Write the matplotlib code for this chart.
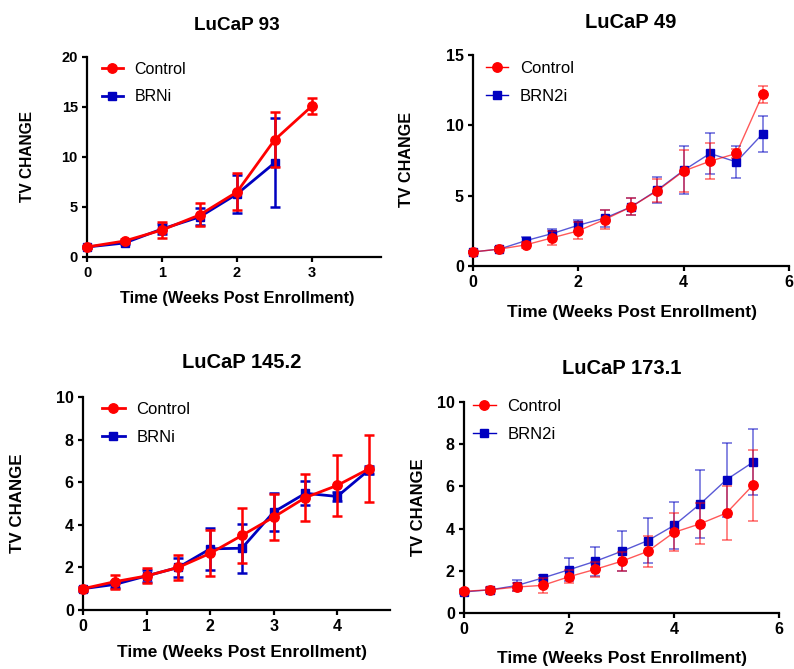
import matplotlib
matplotlib.use('Agg')
import matplotlib.pyplot as plt
from matplotlib.lines import Line2D

plt.rcParams['font.family'] = ['Liberation Sans', 'DejaVu Sans']

RED = '#ff0000'
BLUE = '#0000c0'
W, H = 794, 669

# LuCaP 93
weeks_93 = [0, 0.5, 1, 1.5, 2, 2.5, 3]
ctrl_93 = [1.0, 1.6, 2.7, 4.2, 6.5, 11.7, 15.1]
ctrl_93_err = [0.1, 0.2, 0.8, 1.15, 1.85, 2.75, 0.8]
brn_93 = [1.0, 1.4, 2.8, 4.0, 6.3, 9.4]
brn_93_err = [0.1, 0.15, 0.5, 0.85, 1.9, 4.45]

# LuCaP 49
weeks_49 = [0, 0.5, 1, 1.5, 2, 2.5, 3, 3.5, 4, 4.5, 5, 5.5]
ctrl_49 = [1.0, 1.2, 1.5, 2.0, 2.5, 3.3, 4.2, 5.35, 6.75, 7.45, 8.0, 12.2]
ctrl_49_err = [0.1, 0.15, 0.2, 0.5, 0.6, 0.65, 0.6, 0.8, 1.5, 1.3, 0.3, 0.6]
brn_49 = [1.0, 1.2, 1.8, 2.3, 2.9, 3.4, 4.2, 5.4, 6.8, 8.0, 7.4, 9.4]
brn_49_err = [0.1, 0.15, 0.25, 0.3, 0.4, 0.6, 0.6, 0.9, 1.7, 1.45, 1.15, 1.27]

# LuCaP 145.2
weeks_145 = [0, 0.5, 1, 1.5, 2, 2.5, 3, 3.5, 4, 4.5]
ctrl_145 = [1.0, 1.33, 1.6, 2.0, 2.66, 3.5, 4.36, 5.28, 5.85, 6.63]
ctrl_145_err = [0.1, 0.33, 0.35, 0.6, 1.08, 1.3, 1.08, 1.1, 1.43, 1.57]
brn_145 = [1.0, 1.2, 1.6, 2.0, 2.87, 2.9, 4.6, 5.48, 5.33, 6.58]
brn_145_err = [0.1, 0.15, 0.3, 0.45, 1.0, 1.15, 0.9, 0.57, 0.2, 0.2]

# LuCaP 173.1
weeks_173 = [0, 0.5, 1, 1.5, 2, 2.5, 3, 3.5, 4, 4.5, 5, 5.5]
ctrl_173 = [1.03, 1.1, 1.23, 1.31, 1.72, 2.07, 2.45, 2.92, 3.82, 4.23, 4.74, 6.05]
ctrl_173_err = [0.1, 0.15, 0.2, 0.37, 0.3, 0.35, 0.45, 0.75, 0.9, 0.96, 1.27, 1.68]
brn_173 = [1.0, 1.1, 1.3, 1.66, 2.05, 2.45, 2.92, 3.43, 4.15, 5.17, 6.32, 7.14]
brn_173_err = [0.1, 0.1, 0.25, 0.15, 0.55, 0.7, 0.95, 1.07, 1.1, 1.62, 1.75, 1.57]


def px_axes(fig, left, top, right, bottom):
    return fig.add_axes([left / W, 1 - bottom / H, (right - left) / W, (bottom - top) / H])


def draw_panel(ax, weeks, ctrl, ctrl_err, brn, brn_err, brn_label,
               xlim, xticks, ylim, yticks, thick, tick_fs, leg_fs, leg_xy):
    lw = 2.0 if thick else 1.0
    line_alpha = 1.0 if thick else 0.65
    err_alpha = 1.0 if thick else 0.55
    for x, y, e, color, marker, ms, z in [
            (weeks[:len(brn)], brn, brn_err, BLUE, 's', 6.2, 3),
            (weeks[:len(ctrl)], ctrl, ctrl_err, RED, 'o', 6.8, 4)]:
        ax.errorbar(x, y, yerr=e, fmt='none', ecolor=color, elinewidth=lw * 0.9 if thick else 1.2,
                    capsize=3.6, capthick=lw * 0.9 if thick else 1.2, alpha=err_alpha,
                    zorder=z, clip_on=False)
        ax.plot(x, y, '-', color=color, lw=lw, alpha=line_alpha, zorder=z, clip_on=False)
        ax.plot(x, y, marker, color=color, ms=ms, mec=color, zorder=z + 0.5, clip_on=False)

    ax.set_xlim(*xlim)
    ax.set_ylim(*ylim)
    ax.set_xticks(xticks)
    ax.set_yticks(yticks)
    for s in ['top', 'right']:
        ax.spines[s].set_visible(False)
    for s in ['left', 'bottom']:
        ax.spines[s].set_linewidth(1.6)
    ax.tick_params(width=1.6, length=3.6, labelsize=tick_fs, pad=3)
    for lab in ax.get_xticklabels() + ax.get_yticklabels():
        lab.set_fontweight('bold')

    handles = [
        Line2D([], [], color=RED, lw=lw, marker='o', ms=6.8, alpha=1.0),
        Line2D([], [], color=BLUE, lw=lw, marker='s', ms=6.2, alpha=1.0),
    ]
    ax.legend(handles, ['Control', brn_label], loc='upper left', bbox_to_anchor=leg_xy,
              frameon=False, fontsize=leg_fs, borderaxespad=0, borderpad=0,
              handlelength=1.35, handletextpad=0.7, labelspacing=0.78)


fig = plt.figure(figsize=(W / 100, H / 100), dpi=100)

ax1 = px_axes(fig, 87, 57, 381, 257)
draw_panel(ax1, weeks_93, ctrl_93, ctrl_93_err, brn_93, brn_93_err, 'BRNi',
           (0, 3.92), [0, 1, 2, 3], (0, 20), [0, 5, 10, 15, 20], True, 10.5, 11.5, (0.05, 0.975))

ax2 = px_axes(fig, 473, 55, 789, 266)
draw_panel(ax2, weeks_49, ctrl_49, ctrl_49_err, brn_49, brn_49_err, 'BRN2i',
           (0, 6), [0, 2, 4, 6], (0, 15), [0, 5, 10, 15], False, 11.5, 12, (0.041, 0.972))

ax3 = px_axes(fig, 83, 397, 390, 610)
draw_panel(ax3, weeks_145, ctrl_145, ctrl_145_err, brn_145, brn_145_err, 'BRNi',
           (0, 4.83), [0, 1, 2, 3, 4], (0, 10), [0, 2, 4, 6, 8, 10], True, 11.5, 12, (0.062, 0.977))

ax4 = px_axes(fig, 464, 402, 779, 613)
draw_panel(ax4, weeks_173, ctrl_173, ctrl_173_err, brn_173, brn_173_err, 'BRN2i',
           (0, 6), [0, 2, 4, 6], (0, 10), [0, 2, 4, 6, 8, 10], False, 11.5, 12, (0.029, 1.014))

# titles and axis labels, placed in pixel coordinates
titles = [('LuCaP 93', 237, 25, 13.6), ('LuCaP 49', 631, 22, 14.5),
          ('LuCaP 145.2', 242, 363, 14.5), ('LuCaP 173.1', 622, 368, 14.5)]
xlabels = [(237, 298, 11.8), (632, 312, 12.5), (242, 653, 12.5), (622, 659, 12.5)]
ylabels = [(27, 157, 11.2), (407, 159, 11.6), (18, 503, 12.2), (418, 507, 12)]

for text, x, y, fs in titles:
    fig.text(x / W, 1 - y / H, text, ha='center', va='center', fontsize=fs, fontweight='bold')
for x, y, fs in xlabels:
    fig.text(x / W, 1 - y / H, 'Time (Weeks Post Enrollment)', ha='center', va='center',
             fontsize=fs, fontweight='bold')
for x, y, fs in ylabels:
    fig.text(x / W, 1 - y / H, 'TV CHANGE', ha='center', va='center', rotation=90,
             fontsize=fs, fontweight='bold')

fig.savefig('out.png', dpi=100)
